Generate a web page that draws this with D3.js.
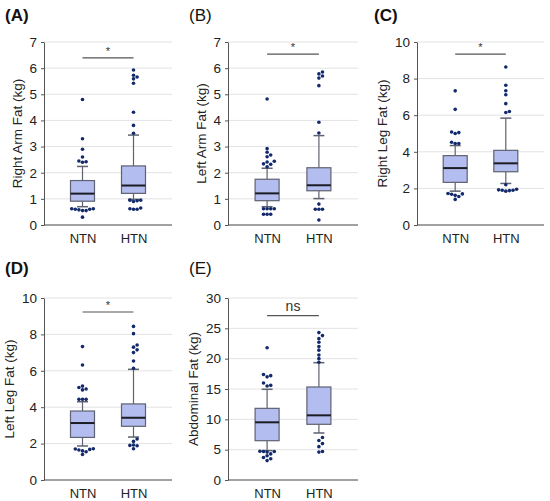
<!DOCTYPE html>
<html lang="en">
<head>
<meta charset="UTF-8">
<title>Fat distribution NTN vs HTN</title>
<script src="https://d3js.org/d3.v7.min.js"></script>
<style>
  body { margin: 0; background: #fff; }
  svg { font-family: "Liberation Sans", Arial, sans-serif; }
</style>
</head>
<body>
<script>
// ---- data ----
const groups = ["NTN", "HTN"];
const panelLabels = ["(A)", "(B)", "(C)", "(D)", "(E)"];
const yTitles = ["Right Arm Fat (kg)", "Left Arm Fat (kg)", "Right Leg Fat (kg)", "Left Leg Fat (kg)", "Abdominal Fat (kg)"];
const yMax = [7, 7, 10, 10, 30];
const yStep = [1, 1, 2, 2, 5];
const sigText = ["*", "*", "*", "*", "ns"];
const sigLevel = [6.39, 6.54, 9.34, 9.23, 27.1];

// box stats per panel: [whiskerLow, q1, median, q3, whiskerHigh] for NTN, HTN
const boxNTN = [
  [0.70, 0.91, 1.20, 1.70, 2.24],
  [0.70, 0.93, 1.21, 1.75, 2.17],
  [1.85, 2.33, 3.11, 3.79, 4.34],
  [1.87, 2.34, 3.13, 3.79, 4.30],
  [4.84, 6.48, 9.51, 11.81, 14.95]
];
const boxHTN = [
  [0.98, 1.21, 1.51, 2.26, 3.44],
  [1.01, 1.31, 1.52, 2.19, 3.42],
  [2.27, 2.91, 3.37, 4.08, 5.84],
  [2.36, 2.95, 3.42, 4.18, 6.08],
  [7.75, 9.18, 10.66, 15.33, 19.34]
];
const outNTN = [
  [0.30, 0.55, 0.55, 0.58, 0.60, 0.60, 0.62, 0.62, 2.40, 2.42, 2.45, 2.60, 2.90, 3.30, 4.80],
  [0.41, 0.41, 0.41, 0.62, 0.62, 0.62, 0.62, 2.23, 2.32, 2.34, 2.41, 2.44, 2.61, 2.68, 2.78, 2.92, 4.82],
  [1.40, 1.56, 1.62, 1.68, 1.70, 1.72, 4.45, 4.45, 4.52, 5.00, 5.05, 5.08, 6.32, 7.33],
  [1.40, 1.55, 1.60, 1.65, 1.68, 1.70, 1.72, 4.43, 4.43, 4.43, 4.95, 5.00, 5.08, 5.16, 6.32, 7.33],
  [3.20, 3.50, 3.70, 4.00, 4.30, 4.60, 4.70, 4.70, 4.75, 15.5, 15.6, 16.0, 17.0, 17.2, 17.4, 21.8]
];
const outHTN = [
  [0.60, 0.60, 0.62, 0.65, 0.90, 0.93, 0.95, 0.95, 3.51, 3.81, 4.31, 5.42, 5.59, 5.66, 5.73, 5.93],
  [0.19, 0.60, 0.60, 0.60, 0.80, 3.52, 3.93, 5.33, 5.62, 5.70, 5.78, 5.85],
  [1.85, 1.88, 1.90, 1.90, 1.92, 1.95, 2.20, 6.15, 6.20, 6.63, 7.12, 7.34, 7.64, 8.63],
  [1.72, 1.88, 1.90, 1.92, 2.12, 2.25, 6.14, 6.54, 7.00, 7.15, 7.30, 7.42, 8.04, 8.44],
  [4.60, 4.70, 5.50, 6.00, 6.50, 7.00, 19.4, 20.0, 20.6, 21.4, 22.0, 22.7, 23.3, 23.8, 24.3]
];

// ---- layout ----
const W = 550, H = 501;
const colX = [[44, 172], [228, 358], [417, 544]];
const rowY = [[42, 225], [298, 480]];
const labelPos = [[5, 21], [189, 21], [374, 21], [5, 274], [189, 274]];

const svg = d3.select("body").append("svg")
  .attr("width", W).attr("height", H);

const boxFill = "#b3bdef";
const boxStroke = "#5f6270";
const dotColor = "#12296b";

panelLabels.forEach((lab, i) => {
  const col = i % 3, row = Math.floor(i / 3);
  const [x0, x1] = colX[col];
  const [y0, y1] = rowY[row];

  const y = d3.scaleLinear().domain([0, yMax[i]]).range([y1, y0]);
  const x = d3.scalePoint().domain(groups).range([x0, x1]).padding(0.755);

  const g = svg.append("g");

  // panel label
  svg.append("text")
    .attr("x", labelPos[i][0]).attr("y", labelPos[i][1])
    .attr("font-size", 17)
    .attr("font-weight", (i === 1 || i === 4) ? "normal" : "bold")
    .attr("fill", "#111")
    .text(lab);

  const ticks = d3.range(0, yMax[i] + 1e-9, yStep[i]);

  // grid
  g.append("g").selectAll("line")
    .data(ticks.filter(t => t > 0))
    .join("line")
    .attr("x1", x0).attr("x2", x1)
    .attr("y1", d => y(d)).attr("y2", d => y(d))
    .attr("stroke", "#e3e3e3").attr("stroke-width", 1);

  // y axis
  const yAxis = g.append("g")
    .attr("transform", `translate(${x0},0)`)
    .call(d3.axisLeft(y).tickValues(ticks).tickFormat(d3.format("d"))
      .tickSize(3).tickPadding(4).tickSizeOuter(0));
  yAxis.select(".domain").attr("stroke", "#555");
  yAxis.selectAll(".tick line").attr("stroke", "#555");
  yAxis.selectAll("text").attr("font-size", 13.5).attr("fill", "#222");

  // x axis
  const xAxis = g.append("g")
    .attr("transform", `translate(0,${y1})`)
    .call(d3.axisBottom(x).tickSize(0).tickPadding(9));
  xAxis.select(".domain").attr("stroke", "#444").attr("d", `M${x0},0H${x1}`);
  xAxis.selectAll("text").attr("font-size", 13).attr("fill", "#222");

  // y title
  const titleX = x0 - (yMax[i] >= 10 ? 30 : 22);
  svg.append("text")
    .attr("transform", `translate(${titleX},${(y0 + y1) / 2}) rotate(-90)`)
    .attr("text-anchor", "middle")
    .attr("font-size", 13.5)
    .attr("fill", "#222")
    .text(yTitles[i]);

  // boxes
  const bw = 24, cw = 11;
  [boxNTN[i], boxHTN[i]].forEach((s, k) => {
    const cx = x(groups[k]);
    const [wl, q1, md, q3, wh] = s;
    g.append("line").attr("x1", cx).attr("x2", cx).attr("y1", y(q3)).attr("y2", y(wh))
      .attr("stroke", boxStroke).attr("stroke-width", 1.2);
    g.append("line").attr("x1", cx).attr("x2", cx).attr("y1", y(q1)).attr("y2", y(wl))
      .attr("stroke", boxStroke).attr("stroke-width", 1.2);
    [wl, wh].forEach(v => {
      g.append("line").attr("x1", cx - cw / 2).attr("x2", cx + cw / 2)
        .attr("y1", y(v)).attr("y2", y(v))
        .attr("stroke", boxStroke).attr("stroke-width", 1.5);
    });
    g.append("rect")
      .attr("x", cx - bw / 2).attr("width", bw)
      .attr("y", y(q3)).attr("height", y(q1) - y(q3))
      .attr("fill", boxFill).attr("stroke", boxStroke).attr("stroke-width", 1.2);
    g.append("line").attr("x1", cx - bw / 2).attr("x2", cx + bw / 2)
      .attr("y1", y(md)).attr("y2", y(md))
      .attr("stroke", "#1c1c24").attr("stroke-width", 2);
  });

  // outliers, dodged side by side when they overlap
  const r = 1.8, d = 3.6;
  [outNTN[i], outHTN[i]].forEach((vals, k) => {
    const cx = x(groups[k]);
    const placed = [];
    vals.slice().sort((a, b) => a - b).forEach(v => {
      const py = y(v);
      let off = 0;
      for (let n = 0; n < 20; n++) {
        off = n === 0 ? 0 : (n % 2 ? 1 : -1) * Math.ceil(n / 2) * d;
        const clash = placed.some(p => Math.hypot(p[0] - off, p[1] - py) < d);
        if (!clash) break;
      }
      placed.push([off, py]);
    });
    g.append("g").selectAll("circle")
      .data(placed)
      .join("circle")
      .attr("cx", p => cx + p[0]).attr("cy", p => p[1])
      .attr("r", r).attr("fill", dotColor);
  });

  // significance bar
  const sy = y(sigLevel[i]);
  g.append("line")
    .attr("x1", x(groups[0])).attr("x2", x(groups[1]))
    .attr("y1", sy).attr("y2", sy)
    .attr("stroke", "#555").attr("stroke-width", 1.2);
  g.append("text")
    .attr("x", (x(groups[0]) + x(groups[1])) / 2)
    .attr("y", sigText[i] === "*" ? sy - 3 : sy - 5)
    .attr("text-anchor", "middle")
    .attr("font-size", sigText[i] === "*" ? 11 : 14)
    .attr("fill", "#333")
    .text(sigText[i]);
});
</script>
</body>
</html>
